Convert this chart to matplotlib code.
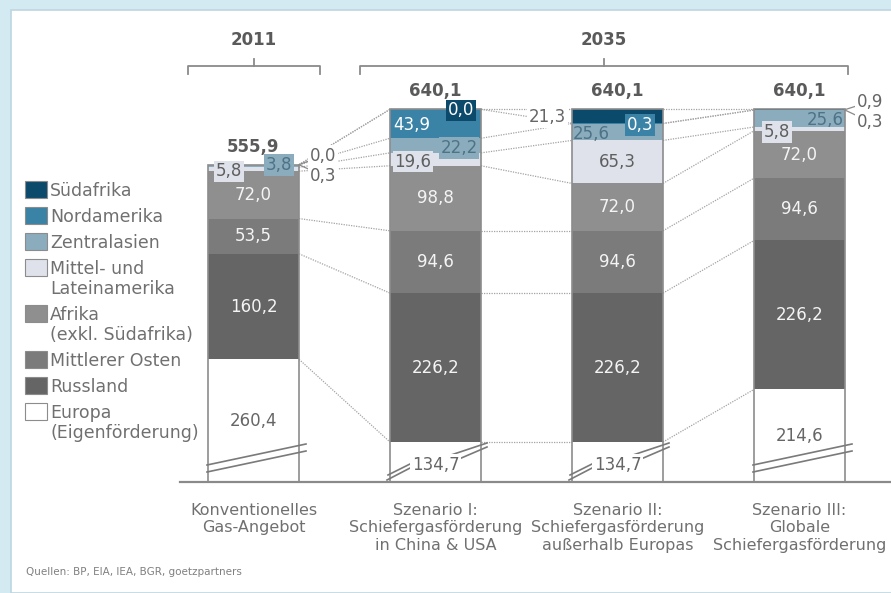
import numpy as np
import matplotlib.pyplot as plt
from matplotlib.patches import Rectangle

# Gasangebot Europa (Mrd. m3), 2011 vs. 2035 Szenarien
categories = ["Konventionelles\nGas-Angebot",
              "Szenario I:\nSchiefergasförderung\nin China & USA",
              "Szenario II:\nSchiefergasförderung\naußerhalb Europas",
              "Szenario III:\nGlobale\nSchiefergasförderung"]
regions = ["Europa\n(Eigenförderung)", "Russland", "Mittlerer Osten",
           "Afrika\n(exkl. Südafrika)", "Mittel- und\nLateinamerika",
           "Zentralasien", "Nordamerika", "Südafrika"]

europa = [260.4, 134.7, 134.7, 214.6]
russland = [160.2, 226.2, 226.2, 226.2]
mittlerer_osten = [53.5, 94.6, 94.6, 94.6]
afrika = [72.0, 98.8, 72.0, 72.0]
lateinamerika = [5.8, 19.6, 65.3, 5.8]
zentralasien = [3.8, 22.2, 25.6, 25.6]
nordamerika = [0.3, 43.9, 0.3, 0.3]
suedafrika = [0.0, 0.0, 21.3, 0.9]
totals = [555.9, 640.1, 640.1, 640.1]
years = ["2011", "2035"]

seg_colors = ['#ffffff', '#646564', '#7b7b7b', '#8f8f8f',
              '#dfe2eb', '#8aacbd', '#3a83a6', '#0c4a6c']
txt_colors = ['#666666', '#f4f4f4', '#f4f4f4', '#f4f4f4',
              '#5f5f5f', '#4e7386', '#ffffff', '#ffffff']

data = np.array([europa, russland, mittlerer_osten, afrika,
                 lateinamerika, zentralasien, nordamerika, suedafrika])

W, H = 891, 593
XS = 182.0      # px per category
YS = 0.6584     # px per unit
YMIN = 74.0     # broken axis start
BW = 0.5


def dx(px):
    return px / XS


def dy(px):
    return px / YS


def fx(px):
    return px / W


def fy(py):
    return 1 - py / H


def fmt(v):
    return "{:.1f}".format(v).replace(".", ",")


fig = plt.figure(figsize=(W / 100, H / 100), dpi=100)
fig.patch.set_facecolor('#d4eaf2')
fig.patches.append(Rectangle((fx(11), 0), 1, fy(10), transform=fig.transFigure,
                             facecolor='white', edgecolor='#bcd6e0', lw=1.2, zorder=-5))

ax = fig.add_axes([fx(180), fy(482), fx(891) - fx(180), fy(0) - fy(482)])
ax.set_xlim(-(253.5 - 180) / XS, (891 - 253.5) / XS)
ax.set_ylim(YMIN, YMIN + dy(482))
ax.axis('off')
ax.patch.set_alpha(0)

x = np.arange(len(categories))
cum = np.vstack([np.zeros(len(x)), np.cumsum(data, axis=0)])

# dotted connectors between neighbouring bars
for i in range(len(x) - 1):
    for k in range(1, len(regions) + 1):
        ax.plot([x[i] + BW / 2, x[i + 1] - BW / 2], [cum[k, i], cum[k, i + 1]],
                linestyle=(0, (1, 1)), color='#a3a3a3', lw=0.9, zorder=1)

# stacked bars
for k in range(len(regions)):
    bottom = np.maximum(cum[k], YMIN)
    ax.bar(x, cum[k + 1] - bottom, bottom=bottom, width=BW,
           color=seg_colors[k], edgecolor='none', zorder=2)
ax.bar(x, cum[-1] - YMIN, bottom=YMIN, width=BW, facecolor='none',
       edgecolor='#8c8c8c', lw=1.2, zorder=3)

# baseline
ax.axhline(YMIN, color='#8a8a8a', lw=1.6, zorder=3, clip_on=False)

# break marks
brk = dict(color='#7a7a7a', lw=1.2, zorder=3.5, clip_on=False)
for i in x:
    L, R = i - BW / 2, i + BW / 2
    if i in (0, 3):
        ax.plot([L - dx(1), R + dx(7)], [YMIN + dy(17), YMIN + dy(38)], **brk)
        ax.plot([L - dx(1), R + dx(7)], [YMIN + dy(10), YMIN + dy(31)], **brk)
    else:
        ax.plot([L - dx(3), L + dx(22)], [YMIN + dy(2), YMIN + dy(15)], **brk)
        ax.plot([L - dx(2), L + dx(22)], [YMIN + dy(7), YMIN + dy(19)], **brk)
        ax.plot([R - dx(22), R + dx(6)], [YMIN + dy(23), YMIN + dy(35)], **brk)
        ax.plot([R - dx(30), R + dx(6)], [YMIN + dy(27), YMIN + dy(39)], **brk)

# segment labels: (kind, x offset px, y offset px, down = positive)
specs = {
    (0, 4): ('box', -24.5, 2), (0, 5): ('box', 25.5, -1),
    (0, 6): ('out', 11, 11), (0, 7): ('out', 11, -9),
    (1, 4): ('box', -22.5, 2.5), (1, 5): ('box', 23.5, 2.5),
    (1, 6): ('plain', -24, 1), (1, 7): ('box', 25.5, 1),
    (2, 5): ('plain', -26, 2), (2, 6): ('box', 22.5, 1.5),
    (2, 7): ('left', -6, 0.5),
    (3, 4): ('box', -22.5, 3), (3, 5): ('plain', 25.5, 1.5),
    (3, 6): ('out', 12, 12), (3, 7): ('out', 12, -8),
}
fs = 12
for i in x:
    for k in range(len(regions)):
        v = data[k, i]
        yc = (max(cum[k, i], YMIN) + cum[k + 1, i]) / 2
        kind, ox, oy = specs.get((i, k), ('plain', 0, 0))
        if k == 0 and i in (1, 2):
            oy = 3
        kw = dict(xycoords='data', textcoords='offset points', va='center',
                  fontsize=fs, zorder=5, color=txt_colors[k], ha='center')
        if kind == 'box':
            ax.annotate(fmt(v), (i, yc), xytext=(ox * 0.72, -oy * 0.72),
                        bbox=dict(boxstyle='square,pad=0.1', fc=seg_colors[k], ec='none'), **kw)
        elif kind == 'plain':
            if k == 0 and i in (1, 2):
                kw['bbox'] = dict(boxstyle='square,pad=0.1', fc='white', ec='none')
            ax.annotate(fmt(v), (i, yc), xytext=(ox * 0.72, -oy * 0.72), **kw)
        elif kind == 'out':
            kw.update(ha='left', color='#666666')
            ax.annotate(fmt(v), (i + BW / 2, yc), xytext=(ox * 0.72, -oy * 0.72),
                        bbox=dict(boxstyle='square,pad=0.1', fc='white', ec='none'),
                        arrowprops=dict(arrowstyle='-', color='#8a8a8a', lw=0.9,
                                        shrinkA=0, shrinkB=0), **kw)
        elif kind == 'left':
            kw.update(ha='right', color='#666666')
            ax.annotate(fmt(v), (i - BW / 2, yc), xytext=(ox * 0.72, -oy * 0.72),
                        bbox=dict(boxstyle='square,pad=0.1', fc='white', ec='none'), **kw)

# totals
for i in x:
    ax.annotate(fmt(totals[i]), (i, cum[-1, i]), xytext=(0, 18 * 0.72),
                textcoords='offset points', ha='center', va='center',
                fontsize=12, fontweight='bold', color='#5a5a5a', zorder=5)

# year brackets
br = dict(color='#8a8a8a', lw=1.3, clip_on=False)
yb, ye, yt = YMIN + dy(482 - 66), YMIN + dy(482 - 74), YMIN + dy(482 - 59)
for label, x0, x1 in [(years[0], x[0] - BW / 2 - dx(20), x[0] + BW / 2 + dx(21)),
                      (years[1], x[1] - BW / 2 - dx(30), x[3] + BW / 2 + dx(3))]:
    xm = (x0 + x1) / 2
    ax.plot([x0, x0, x1, x1], [ye, yb, yb, ye], **br)
    ax.plot([xm, xm], [yb, yt], **br)
    ax.text(xm, YMIN + dy(482 - 40), label, ha='center', va='center',
            fontsize=12, fontweight='bold', color='#5a5a5a')

# category labels
for i in x:
    ax.annotate(categories[i], (i, YMIN), xytext=(0, -21 * 0.72),
                textcoords='offset points', ha='center', va='top',
                fontsize=11.5, color='#707070', linespacing=1.2,
                annotation_clip=False)

# legend (drawn by hand, top entry first)
top = 181
for k in reversed(range(len(regions))):
    fig.patches.append(Rectangle((fx(25), fy(top + 17)), fx(22), 17 / H,
                                 transform=fig.transFigure, facecolor=seg_colors[k],
                                 edgecolor='#8c8c8c', lw=0.8, zorder=2))
    for j, line in enumerate(regions[k].split("\n")):
        fig.text(fx(50), fy(top + 8.5 + 6 + 20 * j), line, ha='left', va='baseline',
                 fontsize=12.5, color='#707070')
    top += 26 + 20 * regions[k].count("\n")

fig.text(fx(26), fy(572), "Quellen: BP, EIA, IEA, BGR, goetzpartners",
         ha='left', va='center', fontsize=7.5, color='#808080')

fig.savefig("out.png", dpi=100, facecolor=fig.get_facecolor())
